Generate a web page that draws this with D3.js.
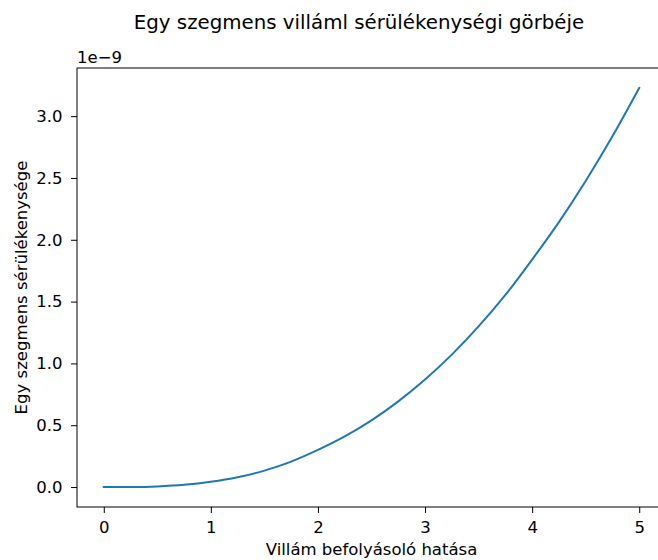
<!DOCTYPE html>
<html>
<head>
<meta charset="utf-8">
<script src="https://cdn.jsdelivr.net/npm/d3@7"></script>
<style>
  html, body { margin: 0; padding: 0; background: #fff; }
  svg { display: block; font-family: "DejaVu Sans", sans-serif; }
</style>
</head>
<body>
<svg id="chart" width="658" height="560"></svg>
<script>
// Data (y values in units of 1e-9)
const xValues = [0, 0.25, 0.5, 0.75, 1.0, 1.25, 1.5, 1.75, 2.0, 2.25, 2.5, 2.75, 3.0, 3.25, 3.5, 3.75, 4.0, 4.25, 4.5, 4.75, 5.0];
const yValues = [0, 0.0007, 0.0053, 0.0177, 0.042, 0.079, 0.133, 0.206, 0.300, 0.409, 0.539, 0.693, 0.870, 1.071, 1.299, 1.554, 1.840, 2.143, 2.476, 2.837, 3.228];
const xTicks = [0, 1, 2, 3, 4, 5];
const yTicks = [0.0, 0.5, 1.0, 1.5, 2.0, 2.5, 3.0];
const titleText = "Egy szegmens villáml sérülékenységi görbéje";
const xLabelText = "Villám befolyásoló hatása";
const yLabelText = "Egy szegmens sérülékenysége";
const offsetText = "1e\u22129";

(function () {
const svg = d3.select("#chart");
const mLeft = 77, mRight = 666, mTop = 68, mBottom = 507;
const fs = "16.5px";

const x = d3.scaleLinear().domain([-0.25, 5.25]).range([mLeft, mRight]);
const yMax = d3.max(yValues);
const yPad = yMax * 0.05;
const y = d3.scaleLinear().domain([-yPad, yMax + yPad]).range([mBottom, mTop]);

const data = xValues.map((v, i) => ({x: v, y: yValues[i]}));

// line
svg.append("path")
  .datum(data)
  .attr("fill", "none")
  .attr("stroke", "#1f77b4")
  .attr("stroke-width", 2)
  .attr("stroke-linecap", "square")
  .attr("d", d3.line().x(d => x(d.x)).y(d => y(d.y)).curve(d3.curveMonotoneX));

// axes
const xAxis = d3.axisBottom(x).tickValues(xTicks).tickFormat(d3.format("d")).tickSize(6).tickPadding(8);
const yAxis = d3.axisLeft(y).tickValues(yTicks).tickFormat(d3.format(".1f")).tickSize(6).tickPadding(8.5);

const gx = svg.append("g").attr("transform", `translate(0,${mBottom})`).call(xAxis);
const gy = svg.append("g").attr("transform", `translate(${mLeft},0)`).call(yAxis);
[gx, gy].forEach(g => {
  g.select(".domain").remove();
  g.selectAll("line").attr("stroke", "#000").attr("stroke-width", 1);
  g.selectAll("text").attr("fill", "#000").style("font-size", fs).style("font-family", "DejaVu Sans, sans-serif");
});

// spines
svg.append("rect")
  .attr("x", mLeft).attr("y", mTop)
  .attr("width", mRight - mLeft).attr("height", mBottom - mTop)
  .attr("fill", "none").attr("stroke", "#000").attr("stroke-width", 1);

// offset text
svg.append("text")
  .attr("x", mLeft).attr("y", 62.5)
  .style("font-size", fs)
  .text(offsetText);

// title
svg.append("text")
  .attr("x", 359).attr("y", 28.5)
  .attr("text-anchor", "middle")
  .style("font-size", "19.8px")
  .text(titleText);

// x label
svg.append("text")
  .attr("x", (mLeft + mRight) / 2).attr("y", 555)
  .attr("text-anchor", "middle")
  .style("font-size", fs)
  .text(xLabelText);

// y label
svg.append("text")
  .attr("transform", `translate(27,${(mTop + mBottom) / 2}) rotate(-90)`)
  .attr("text-anchor", "middle")
  .style("font-size", fs)
  .text(yLabelText);
})();
</script>
</body>
</html>
